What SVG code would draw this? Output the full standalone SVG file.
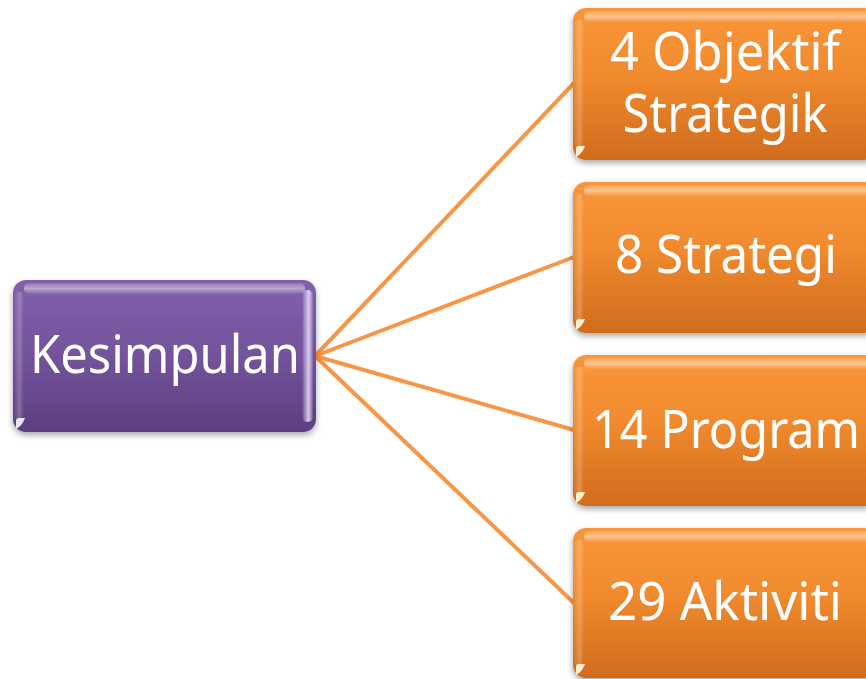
<svg xmlns="http://www.w3.org/2000/svg" width="866" height="679" viewBox="0 0 866 679">
<defs>
<linearGradient id="gO" x1="0" y1="0" x2="0" y2="1">
<stop offset="0" stop-color="#F9963A"/>
<stop offset="0.45" stop-color="#F08A2E"/>
<stop offset="1" stop-color="#D06C1D"/>
</linearGradient>
<linearGradient id="gP" x1="0" y1="0" x2="0" y2="1">
<stop offset="0" stop-color="#8160AB"/>
<stop offset="0.5" stop-color="#73539B"/>
<stop offset="1" stop-color="#5C3E7F"/>
</linearGradient>
<linearGradient id="gTop" x1="0" y1="0" x2="0" y2="1">
<stop offset="0" stop-color="#FFFFFF" stop-opacity="0.15"/>
<stop offset="0.5" stop-color="#FFFFFF" stop-opacity="0.45"/>
<stop offset="1" stop-color="#FFFFFF" stop-opacity="0.05"/>
</linearGradient>
<linearGradient id="gLeft" x1="0" y1="0" x2="1" y2="0">
<stop offset="0" stop-color="#FFFFFF" stop-opacity="0.05"/>
<stop offset="0.5" stop-color="#FFFFFF" stop-opacity="0.22"/>
<stop offset="1" stop-color="#FFFFFF" stop-opacity="0"/>
</linearGradient>
<linearGradient id="gRight" x1="0" y1="0" x2="1" y2="0">
<stop offset="0" stop-color="#FFFFFF" stop-opacity="0"/>
<stop offset="0.6" stop-color="#E6DDFF" stop-opacity="0.85"/>
<stop offset="1" stop-color="#FFFFFF" stop-opacity="0.1"/>
</linearGradient>
<filter id="sh" x="-10%" y="-10%" width="120%" height="130%">
<feDropShadow dx="0" dy="3" stdDeviation="3" flood-color="#000" flood-opacity="0.35"/>
</filter>
<style>
.lbl{font-family:"Noto Sans","Open Sans","DejaVu Sans",sans-serif;font-size:52px;fill:#FFFFFF;text-anchor:middle}
.conn{stroke:#F79646;stroke-width:4;fill:none;stroke-linecap:round}
.boxO{fill:url(#gO);filter:url(#sh)}
.boxP{fill:url(#gP);filter:url(#sh)}
.hiT{fill:url(#gTop)}
.hiL{fill:url(#gLeft)}
.hiR{fill:url(#gRight)}
.corner{fill:#FFF6D8;opacity:0.95}
.cornerP{fill:#F2EEFF;opacity:0.95}
</style>
</defs>
<rect width="866" height="679" fill="#FFFFFF"/>
<g id="connectors">
<line class="conn" x1="315" y1="356" x2="574" y2="83"/>
<line class="conn" x1="315" y1="356" x2="574" y2="257"/>
<line class="conn" x1="315" y1="356" x2="574" y2="430"/>
<line class="conn" x1="315" y1="356" x2="574" y2="603"/>
</g>
<g id="node-kesimpulan">
<rect class="boxP" x="13" y="280" width="303" height="152" rx="13"/>
<rect class="hiT" x="24" y="283" width="281" height="11" rx="5"/>
<rect class="hiL" x="15" y="292" width="9" height="128" rx="4"/>
<rect class="hiR" x="302" y="290" width="11" height="132" rx="5"/>
<path class="cornerP" d="M16 429 L16 421 Q16 418 19 418 L25 418 Q22 426 16 429 Z"/>
<text class="lbl" x="165" y="373" textLength="270" lengthAdjust="spacingAndGlyphs">Kesimpulan</text>
</g>
<g id="node-objektif">
<rect class="boxO" x="573" y="8" width="304" height="152" rx="13"/>
<rect class="hiT" x="584" y="11" width="290" height="11" rx="5"/>
<rect class="hiL" x="575" y="20" width="9" height="128" rx="4"/>
<path class="corner" d="M576 157 L576 149 Q576 146 579 146 L585 146 Q582 154 576 157 Z"/>
<text class="lbl" x="725" y="70" textLength="230" lengthAdjust="spacingAndGlyphs">4 Objektif</text>
<text class="lbl" x="725" y="132" textLength="205" lengthAdjust="spacingAndGlyphs">Strategik</text>
</g>
<g id="node-strategi">
<rect class="boxO" x="573" y="182" width="304" height="151" rx="13"/>
<rect class="hiT" x="584" y="185" width="290" height="11" rx="5"/>
<rect class="hiL" x="575" y="194" width="9" height="127" rx="4"/>
<path class="corner" d="M576 330 L576 322 Q576 319 579 319 L585 319 Q582 327 576 330 Z"/>
<text class="lbl" x="726" y="273" textLength="222" lengthAdjust="spacingAndGlyphs">8 Strategi</text>
</g>
<g id="node-program">
<rect class="boxO" x="573" y="355" width="304" height="151" rx="13"/>
<rect class="hiT" x="584" y="358" width="290" height="11" rx="5"/>
<rect class="hiL" x="575" y="367" width="9" height="127" rx="4"/>
<path class="corner" d="M576 503 L576 495 Q576 492 579 492 L585 492 Q582 500 576 503 Z"/>
<text class="lbl" x="726" y="448" textLength="268" lengthAdjust="spacingAndGlyphs">14 Program</text>
</g>
<g id="node-aktiviti">
<rect class="boxO" x="573" y="528" width="304" height="150" rx="13"/>
<rect class="hiT" x="584" y="531" width="290" height="11" rx="5"/>
<rect class="hiL" x="575" y="540" width="9" height="126" rx="4"/>
<path class="corner" d="M576 675 L576 667 Q576 664 579 664 L585 664 Q582 672 576 675 Z"/>
<text class="lbl" x="725" y="620" textLength="234" lengthAdjust="spacingAndGlyphs">29 Aktiviti</text>
</g>
</svg>
